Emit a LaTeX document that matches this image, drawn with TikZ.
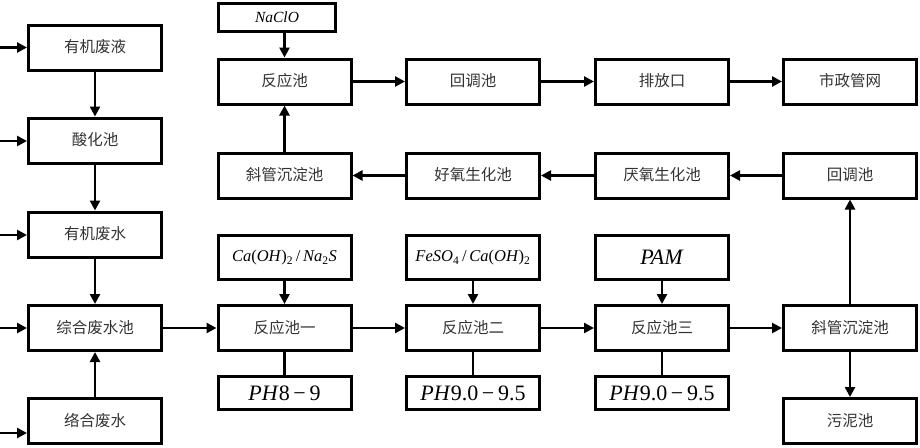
\documentclass[tikz,border=0pt]{standalone}
\usepackage{fontspec}
\setmainfont{Liberation Serif}
\newfontfamily\cjk{Noto Sans CJK SC}
\usetikzlibrary{arrows.meta}
\begin{document}
\begin{tikzpicture}[x=1pt,y=-1pt,
  box/.style={draw,line width=3pt,minimum width=133pt,minimum height=45pt,inner sep=0pt,
    font=\cjk\fontsize{15.5}{16}\selectfont,text=black!80},
  phbox/.style={draw,line width=3pt,minimum width=133pt,minimum height=33pt,inner sep=0pt,
    font=\fontsize{22}{23}\selectfont},
  rgbox/.style={draw,line width=3pt,minimum width=133pt,minimum height=44pt,inner sep=0pt,
    font=\fontsize{16.5}{17}\selectfont},
  arr/.style={line width=2.8pt,-{Triangle[length=10pt,width=10pt]}},
  ln/.style={line width=2.8pt}]
\useasboundingbox (0,0) rectangle (920,447);
\newcommand{\up}[1]{\raisebox{3pt}{#1}}
% left column
\node[box] (a1) at (95,47.5) {\up{有机废液}};
\node[box] (a2) at (95,140.5) {\up{酸化池}};
\node[box] (a3) at (95,234.5) {\up{有机废水}};
\node[box] (a4) at (95,328) {\up{综合废水池}};
\node[box] (a5) at (95,421) {\up{络合废水}};
% inputs
\coordinate (i1) at (0,47.5);
\coordinate (i2) at (0,141);
\coordinate (i3) at (0,235);
\coordinate (i4) at (0,328);
\coordinate (i5) at (0,433);
\draw[arr] (i1) -- (i1 -| a1.west);
\draw[arr] (i2) -- (i2 -| a2.west);
\draw[arr] (i3) -- (i3 -| a3.west);
\draw[arr] (i4) -- (i4 -| a4.west);
\draw[arr] (i5) -- (i5 -| a5.west);
\draw[arr] (a1) -- (a2);
\draw[arr] (a2) -- (a3);
\draw[arr] (a3) -- (a4);
\draw[arr] (a5) -- (a4);
% top row
\node[rgbox,minimum width=117pt,minimum height=28pt,font=\fontsize{15.5}{16}\selectfont] (na) at (277,17.5) {\textit{NaClO}};
\node[box] (b1) at (284.5,81.5) {\up{反应池}};
\node[box] (c1) at (473,81.5) {\up{回调池}};
\node[box] (d1) at (662,81.5) {\up{排放口}};
\node[box] (e1) at (850,81.5) {\up{市政管网}};
\draw[arr] (na.south -| b1.north) -- (b1.north);
\draw[arr] (b1) -- (c1);
\draw[arr] (c1) -- (d1);
\draw[arr] (d1) -- (e1);
% second row
\node[box] (b2) at (284.5,175.5) {\up{斜管沉淀池}};
\node[box] (c2) at (473,175.5) {\up{好氧生化池}};
\node[box] (d2) at (662,175.5) {\up{厌氧生化池}};
\node[box] (e2) at (850,175.5) {\up{回调池}};
\draw[arr] (e2) -- (d2);
\draw[arr] (d2) -- (c2);
\draw[arr] (c2) -- (b2);
\draw[arr] (b2) -- (b1);
% reagents
\node[rgbox] (b3) at (284.5,257.5) {\textit{Ca}(\textit{OH})\textsubscript{2}\,/\,\textit{Na}\textsubscript{2}\textit{S}};
\node[rgbox] (c3) at (473,257.5) {\textit{FeSO}\textsubscript{4}\,/\,\textit{Ca}(\textit{OH})\textsubscript{2}};
\node[rgbox,font=\fontsize{22}{23}\selectfont] (d3) at (662,257.5) {\textit{PAM}};
% reactors
\node[box] (b4) at (284.5,328) {\up{反应池一}};
\node[box] (c4) at (473,328) {\up{反应池二}};
\node[box] (d4) at (662,328) {\up{反应池三}};
\node[box] (e4) at (850,328) {\up{斜管沉淀池}};
\draw[arr] (b3) -- (b4);
\draw[arr] (c3) -- (c4);
\draw[arr] (d3) -- (d4);
\draw[arr] (a4) -- (b4);
\draw[arr] (b4) -- (c4);
\draw[arr] (c4) -- (d4);
\draw[arr] (d4) -- (e4);
\draw[arr] (e4) -- (e2);
% pH
\node[phbox] (b5) at (284.5,393) {\textit{PH}8\,−\,9};
\node[phbox] (c5) at (473,393) {\textit{PH}9.0\,−\,9.5};
\node[phbox] (d5) at (662,393) {\textit{PH}9.0\,−\,9.5};
\draw[ln] (b4) -- (b5);
\draw[ln] (c4) -- (c5);
\draw[ln] (d4) -- (d5);
\node[box] (e5) at (850,421) {\up{污泥池}};
\draw[arr] (e4) -- (e5);
\end{tikzpicture}
\end{document}
